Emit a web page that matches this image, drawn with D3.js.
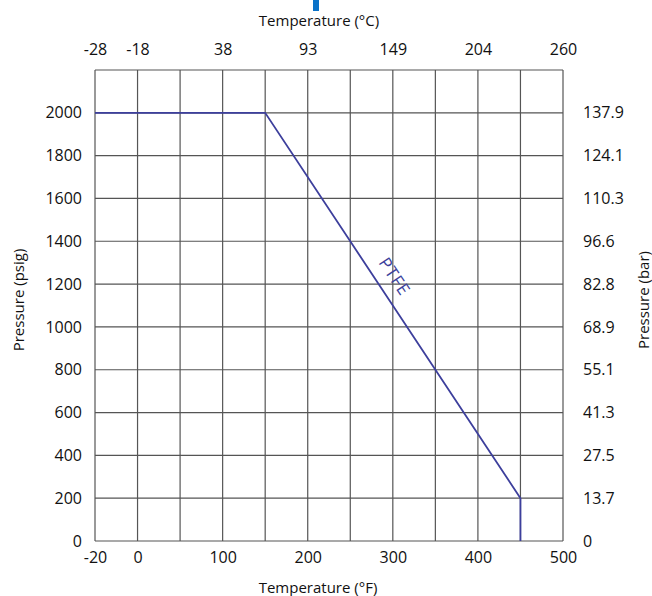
<!DOCTYPE html>
<html>
<head>
<meta charset="utf-8">
<script src="https://cdn.jsdelivr.net/npm/d3@7"></script>
<style>
  html, body { margin: 0; padding: 0; background: #fff; }
  svg { display: block; }
  text { font-family: "Open Sans", "Noto Sans", sans-serif; fill: #111; }
</style>
</head>
<body>
<svg id="chart" width="652" height="596"></svg>
<script>
// ---- data ----
const fTicks = [-20, 0, 100, 200, 300, 400, 500];
const fLabels = ["-20", "0", "100", "200", "300", "400", "500"];
const cLabels = ["-28", "-18", "38", "93", "149", "204", "260"];
const fGrid = [-20, 0, 50, 100, 150, 200, 250, 300, 350, 400, 450, 500];
const psiTicks = [0, 200, 400, 600, 800, 1000, 1200, 1400, 1600, 1800, 2000];
const barLabels = ["0", "13.7", "27.5", "41.3", "55.1", "68.9", "82.8", "96.6", "110.3", "124.1", "137.9"];
const psiGrid = [0, 200, 400, 600, 800, 1000, 1200, 1400, 1600, 1800, 2000, 2200];
const ptfeTemp = [-20, 150, 450, 450];
const ptfePsi = [2000, 2000, 200, 0];
const seriesName = "PTFE";

// ---- layout ----
const L = 95, R = 563, T = 70, B = 541;
const cell = (R - L) / 11;
const lineColor = "#3d3f9c";
const gridColor = "#555";

const svg = d3.select("#chart");

const x = d3.scaleLinear().domain([-20, 0, 500]).range([L, L + cell, R]);
const y = d3.scaleLinear().domain([0, 2200]).range([B, T]);

// grid
const g = svg.append("g");
g.selectAll("line.v").data(fGrid).join("line")
  .attr("x1", d => x(d)).attr("x2", d => x(d))
  .attr("y1", T).attr("y2", B)
  .attr("stroke", gridColor).attr("stroke-width", 1.2);
g.selectAll("line.h").data(psiGrid).join("line")
  .attr("x1", L).attr("x2", R)
  .attr("y1", d => y(d)).attr("y2", d => y(d))
  .attr("stroke", gridColor).attr("stroke-width", 1.2);

// axes (labels only)
const fs = "16px";
function styleAxis(sel) {
  sel.select(".domain").remove();
  sel.selectAll(".tick line").remove();
  sel.selectAll("text").style("font-size", fs);
}
svg.append("g").attr("transform", `translate(0,${B + 7})`)
  .call(d3.axisBottom(x).tickValues(fTicks).tickSize(0).tickPadding(4)
    .tickFormat((d, i) => fLabels[i]))
  .call(styleAxis);
svg.append("g").attr("transform", `translate(0,${T - 11})`)
  .call(d3.axisTop(x).tickValues(fTicks).tickSize(0).tickPadding(4)
    .tickFormat((d, i) => cLabels[i]))
  .call(styleAxis);
svg.append("g").attr("transform", `translate(${L - 13},0)`)
  .call(d3.axisLeft(y).tickValues(psiTicks).tickSize(0).tickPadding(0)
    .tickFormat(d3.format("d")))
  .call(styleAxis);
svg.append("g").attr("transform", `translate(${R + 20},0)`)
  .call(d3.axisRight(y).tickValues(psiTicks).tickSize(0).tickPadding(0)
    .tickFormat((d, i) => barLabels[i]))
  .call(styleAxis);

// series line
const pts = ptfeTemp.map((t, i) => [t, ptfePsi[i]]);
svg.append("path")
  .datum(pts)
  .attr("fill", "none")
  .attr("stroke", lineColor)
  .attr("stroke-width", 1.8)
  .attr("d", d3.line().x(d => x(d[0])).y(d => y(d[1])));

// series label along diagonal
const p1 = pts[1], p2 = pts[2];
const ax = x(p1[0]), ay = y(p1[1]), bx = x(p2[0]), by = y(p2[1]);
const ang = Math.atan2(by - ay, bx - ax) * 180 / Math.PI;
const tt = 0.45;
const off = 18;
const lx = ax + (bx - ax) * tt + off * Math.sin(ang * Math.PI / 180);
const ly = ay + (by - ay) * tt - off * Math.cos(ang * Math.PI / 180);
svg.append("text")
  .attr("transform", `translate(${lx},${ly}) rotate(${ang})`)
  .attr("text-anchor", "middle").attr("dominant-baseline", "central")
  .style("font-size", "17px").style("letter-spacing", "1px").style("fill", lineColor)
  .text(seriesName);

// titles
svg.append("text").attr("x", 319).attr("y", 20)
  .attr("text-anchor", "middle").attr("dominant-baseline", "central")
  .style("font-size", "15px").text("Temperature (°C)");
svg.append("text").attr("x", 318).attr("y", 587)
  .attr("text-anchor", "middle").attr("dominant-baseline", "central")
  .style("font-size", "15px").text("Temperature (°F)");
svg.append("text").attr("transform", "translate(18,300) rotate(-90)")
  .attr("text-anchor", "middle").attr("dominant-baseline", "central")
  .style("font-size", "15px").text("Pressure (psig)");
svg.append("text").attr("transform", "translate(643,300) rotate(-90)")
  .attr("text-anchor", "middle").attr("dominant-baseline", "central")
  .style("font-size", "15px").text("Pressure (bar)");

// small blue mark at top (cut-off element)
svg.append("rect").attr("x", 313).attr("y", 0).attr("width", 6).attr("height", 11)
  .attr("fill", "#0a72c8");
</script>
</body>
</html>
